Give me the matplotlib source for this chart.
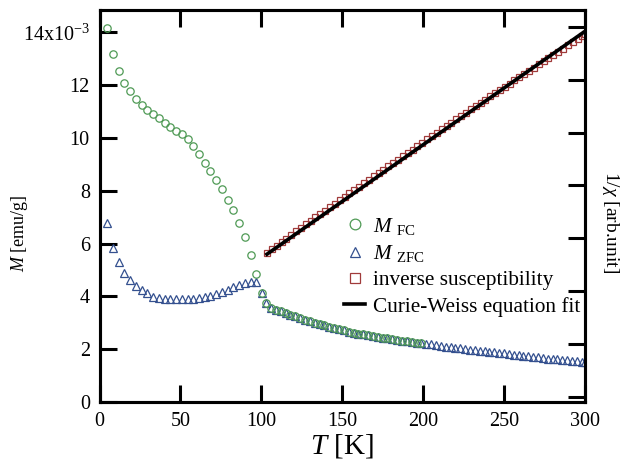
import matplotlib
matplotlib.use('Agg')
import matplotlib.pyplot as plt

plt.rcParams['font.family'] = ['Liberation Serif', 'DejaVu Serif']
plt.rcParams['mathtext.fontset'] = 'custom'
plt.rcParams['mathtext.rm'] = 'Liberation Serif'
plt.rcParams['mathtext.it'] = 'Liberation Serif:italic'

# low temperature part (FC and ZFC split)
t_low = [4.6, 8.2, 11.8, 15.3, 18.9, 22.4, 26.0, 29.5, 33.1, 36.6, 40.2, 43.7, 47.3, 50.8,
         54.4, 57.9, 61.5, 65.0, 68.6, 72.1, 75.7, 79.2, 82.8, 86.3, 89.9, 93.4, 97.0, 100.5, 103.0]
m_fc_low = [14.15, 13.18, 12.54, 12.07, 11.79, 11.48, 11.25, 11.06, 10.9, 10.75, 10.58, 10.4, 10.28, 10.13,
            9.95, 9.7, 9.39, 9.05, 8.74, 8.4, 8.06, 7.65, 7.27, 6.79, 6.26, 5.57, 4.85, 4.12, 3.74]
m_zfc_low = [6.77, 5.85, 5.29, 4.9, 4.62, 4.39, 4.24, 4.12, 3.99, 3.93, 3.89, 3.89, 3.9, 3.9,
             3.91, 3.92, 3.94, 3.97, 4.02, 4.08, 4.16, 4.26, 4.36, 4.44, 4.5, 4.55, 4.56, 4.12, 3.74]

# high temperature part (FC only measured up to ~200 K)
t_high = [106, 109, 112, 115, 118, 121, 124, 127, 130, 133, 136, 139, 142, 145, 148, 151, 154, 157,
          160, 163, 166, 169, 172, 175, 178, 181, 184, 187, 190, 193, 196, 199, 202, 205, 208, 211,
          214, 217, 220, 223, 226, 229, 232, 235, 238, 241, 244, 247, 250, 253, 256, 259, 262, 265,
          268, 271, 274, 277, 280, 283, 286, 289, 292, 295, 298, 300]
m_high = [3.58, 3.5, 3.43, 3.37, 3.3, 3.24, 3.17, 3.11, 3.06, 3.0, 2.95, 2.9, 2.85, 2.8, 2.75, 2.71,
          2.67, 2.63, 2.59, 2.56, 2.53, 2.5, 2.47, 2.44, 2.41, 2.38, 2.35, 2.32, 2.3, 2.27, 2.25, 2.22,
          2.2, 2.18, 2.15, 2.13, 2.1, 2.08, 2.05, 2.03, 2.0, 1.98, 1.96, 1.94, 1.92, 1.9, 1.88, 1.86,
          1.84, 1.82, 1.8, 1.78, 1.76, 1.74, 1.72, 1.7, 1.67, 1.65, 1.64, 1.62, 1.6, 1.58, 1.56, 1.55,
          1.53, 1.52]
n_fc_high = 32  # FC points up to 199 K

# inverse susceptibility (arb. unit)
t_inv = [103.5, 106.5, 109.5, 112.5, 115.5, 118.5, 121.5, 124.5, 127.5, 130.5, 133.5, 136.5, 139.5,
         142.5, 145.5, 148.5, 151.5, 154.5, 157.5, 160.5, 163.5, 166.5, 169.5, 172.5, 175.5, 178.5,
         181.5, 184.5, 187.5, 190.5, 193.5, 196.5, 199.5, 202.5, 205.5, 208.5, 211.5, 214.5, 217.5,
         220.5, 223.5, 226.5, 229.5, 232.5, 235.5, 238.5, 241.5, 244.5, 247.5, 250.5, 253.5, 256.5,
         259.5, 262.5, 265.5, 268.5, 271.5, 274.5, 277.5, 280.5, 283.5, 286.5, 289.5, 292.5, 295.5,
         298.5, 300]
inv_chi = [5.43, 5.58, 5.72, 5.86, 5.99, 6.13, 6.26, 6.39, 6.53, 6.66, 6.79, 6.92, 7.05, 7.18, 7.31,
           7.44, 7.57, 7.70, 7.83, 7.95, 8.08, 8.21, 8.34, 8.47, 8.60, 8.72, 8.85, 8.98, 9.11, 9.23,
           9.36, 9.49, 9.62, 9.75, 9.87, 10.00, 10.12, 10.25, 10.38, 10.50, 10.63, 10.75, 10.88, 11.00,
           11.12, 11.25, 11.37, 11.49, 11.62, 11.74, 11.86, 11.98, 12.10, 12.22, 12.34, 12.46, 12.58,
           12.70, 12.82, 12.94, 13.06, 13.18, 13.30, 13.42, 13.54, 13.66, 13.72]

# Curie-Weiss fit: 1/chi = (T - theta) / C
theta = -22.3
C = 23.3
t_fit = [103.5, 300]
fit = [(t - theta) / C for t in t_fit]

t_fc = t_low + t_high[:n_fc_high]
m_fc = m_fc_low + m_high[:n_fc_high]
t_zfc = t_low + t_high
m_zfc = m_zfc_low + m_high

fig = plt.figure(figsize=(6.42, 4.67), dpi=100)
ax = fig.add_axes((0.155, 0.139, 0.756, 0.840))
ax2 = ax.twinx()

l1, = ax.plot(t_zfc, m_zfc, ls='none', marker='^', ms=5.3, mfc='none', mec='#34508f', mew=0.9,
              label=r'$M$ $_{\rm ZFC}$')
l0, = ax.plot(t_fc, m_fc, ls='none', marker='o', ms=5.3, mfc='none', mec='#4f9a55', mew=0.9,
              label=r'$M$ $_{\rm FC}$')
l2, = ax2.plot(t_inv, inv_chi, ls='none', marker='s', ms=5, mfc='none', mec='#a03a3a', mew=0.9,
               label='inverse susceptibility')
l3, = ax2.plot(t_fit, fit, color='black', lw=2.6, label='Curie-Weiss equation fit')

ax.set_xlim(0, 300)
ax.set_ylim(0, 14.85)
ax2.set_ylim(-0.2, 14.65)
ax.set_xticks([0, 50, 100, 150, 200, 250, 300])
ax.set_yticks([0, 2, 4, 6, 8, 10, 12, 14])
ax.set_yticklabels(['0', '2', '4', '6', '8', '10', '12', '14x10$^{-3}$'])
ax2.set_yticks([0, 2, 4, 6, 8, 10, 12, 14])
ax2.set_yticklabels([])

ax.tick_params(axis='both', direction='in', length=12, width=2.2, labelsize=14.5, pad=7)
ax.tick_params(axis='x', top=True)
ax.tick_params(axis='y', right=False)
ax2.tick_params(axis='y', direction='in', length=12, width=2.2)
for a in (ax, ax2):
    for sp in a.spines.values():
        sp.set_linewidth(2.2)

ax.set_xlabel(r'$T$ [K]', fontsize=21, labelpad=1)
ax.set_ylabel(r'$M$ [emu/g]', fontsize=13)
ax.yaxis.set_label_coords(-0.143, 0.43)
ax2.set_ylabel(r'1/$\chi$ [arb.unit]', fontsize=14, rotation=270)
ax2.yaxis.set_label_coords(1.075, 0.46)

leg = ax2.legend(handles=[l0, l1, l2, l3], loc='upper left', bbox_to_anchor=(0.473, 0.513),
                 frameon=False, fontsize=15.3, markerscale=1.45, handlelength=1.0,
                 handletextpad=0.35, labelspacing=0.3, borderpad=0.2)

fig.savefig('out.png', dpi=100)
